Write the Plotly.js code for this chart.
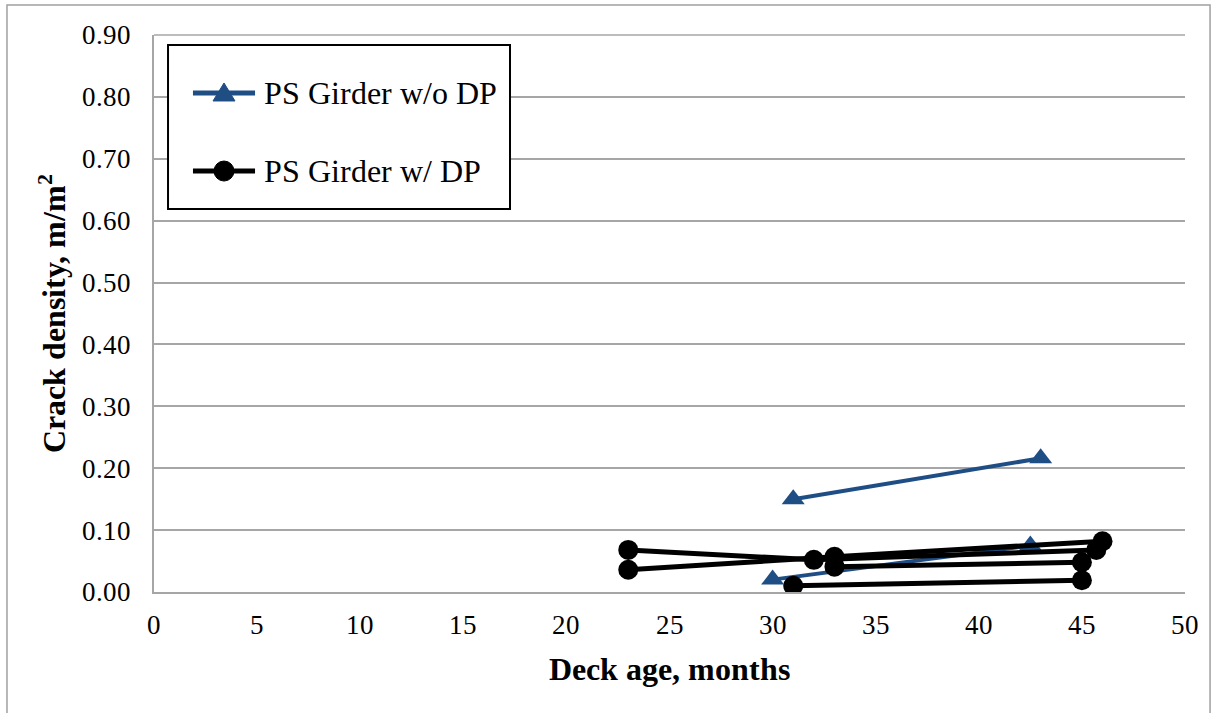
<!DOCTYPE html>
<html>
<head>
<meta charset="utf-8">
<script src="https://cdn.plot.ly/plotly-3.0.1.min.js"></script>
<style>
@font-face { font-family: "ChartSerif"; font-weight: 400; font-style: normal;
  src: local("Liberation Serif"), local("LiberationSerif"), local("Liberation Serif Regular"); }
@font-face { font-family: "ChartSerif"; font-weight: 700; font-style: normal;
  src: local("Liberation Serif Bold"), local("LiberationSerif-Bold"); }
html,body{margin:0;padding:0;background:#fff;}
#chart{width:1217px;height:713px;}
</style>
</head>
<body>
<div id="chart"></div>
<script>
// PS Girder without deck placement (w/o DP): bridge pairs separated by null
var woAge     = [31, 43, null, 30, 42.5];
var woDensity = [0.15, 0.216, null, 0.02, 0.075];

// PS Girder with deck placement (w/ DP)
var wAge     = [23, 32, 45.7, null, 23, 33, 46, null, 33, 45, null, 31, 45];
var wDensity = [0.068, 0.052, 0.068, null, 0.036, 0.057, 0.082, null, 0.041, 0.048, null, 0.010, 0.019];

var seriesNames = ["PS Girder w/o DP", "PS Girder w/ DP"];
var xTitle = "Deck age, months";
var yTitle = "Crack density, m/m<sup>2</sup>";

var fam = "ChartSerif, Liberation Serif, serif";
var blue = "#1f4e85";

function draw() {
  var traces = [
    {x: woAge, y: woDensity, name: seriesNames[0], type: "scatter", mode: "lines+markers",
     connectgaps: false, line: {color: blue, width: 4},
     marker: {symbol: "triangle-up", size: 20, color: blue}},
    {x: wAge, y: wDensity, name: seriesNames[1], type: "scatter", mode: "lines+markers",
     connectgaps: false, line: {color: "#000000", width: 5},
     marker: {symbol: "circle", size: 20, color: "#000000"}}
  ];

  // legend drawn by hand in paper coordinates (box, sample lines, marker shapes, texts)
  var legY = [0.8959, 0.7558];
  var layout = {
    width: 1217, height: 713,
    margin: {l: 154, r: 32, t: 35, b: 121},
    paper_bgcolor: "#ffffff", plot_bgcolor: "#ffffff",
    font: {family: fam, color: "#000", size: 27},
    showlegend: false,
    xaxis: {
      range: [0, 50], dtick: 5, tick0: 0, showgrid: false, zeroline: false,
      showline: true, linecolor: "#a6a6a6", linewidth: 2,
      ticks: "outside", ticklen: 8, tickcolor: "rgba(0,0,0,0)",
      tickfont: {family: fam, size: 27, color: "#000"},
      title: {text: xTitle, font: {family: fam, size: 32, color: "#000", weight: "bold"}, standoff: 18}
    },
    yaxis: {
      range: [0, 0.9], dtick: 0.1, tick0: 0, tickformat: ".2f",
      showgrid: true, gridcolor: "#a6a6a6", gridwidth: 1.5, zeroline: false,
      showline: true, linecolor: "#a6a6a6", linewidth: 2,
      ticks: "outside", ticklen: 16, tickcolor: "rgba(0,0,0,0)",
      tickfont: {family: fam, size: 27, color: "#000"},
      title: {text: yTitle, font: {family: fam, size: 32, color: "#000", weight: "bold"}, standoff: 6}
    },
    shapes: [
      {type: "line", xref: "paper", yref: "paper", x0: 0, x1: 1, y0: 1, y1: 1, line: {color: "#a6a6a6", width: 1.5}},
      {type: "rect", xref: "paper", yref: "paper", x0: -0.1426, x1: 1.0243, y0: -0.30, y1: 1.0539,
       line: {color: "#a0a0a0", width: 1.5}, fillcolor: "rgba(0,0,0,0)"},
      {type: "rect", xref: "paper", yref: "paper", x0: 0.0136, x1: 0.3453, y0: 0.6876, y1: 0.9820,
       line: {color: "#000", width: 2}, fillcolor: "#ffffff"},
      {type: "line", xref: "paper", yref: "paper", x0: 0.0378, x1: 0.0980, y0: legY[0], y1: legY[0], line: {color: blue, width: 5}},
      {type: "path", xref: "paper", yref: "paper", xsizemode: "pixel", ysizemode: "pixel", xanchor: 0.0679, yanchor: legY[0],
       path: "M0,10 L-11,-8 L11,-8 Z", fillcolor: blue, line: {color: blue, width: 1}},
      {type: "line", xref: "paper", yref: "paper", x0: 0.0378, x1: 0.0980, y0: legY[1], y1: legY[1], line: {color: "#000", width: 5}},
      {type: "circle", xref: "paper", yref: "paper", xsizemode: "pixel", ysizemode: "pixel", xanchor: 0.0679, yanchor: legY[1],
       x0: -10, x1: 10, y0: -10, y1: 10, fillcolor: "#000", line: {color: "#000", width: 1}}
    ],
    annotations: [
      {text: seriesNames[0], xref: "paper", yref: "paper", x: 0.1048, y: legY[0], xanchor: "left", yanchor: "middle",
       showarrow: false, font: {family: fam, size: 32, color: "#000"}},
      {text: seriesNames[1], xref: "paper", yref: "paper", x: 0.1048, y: legY[1], xanchor: "left", yanchor: "middle",
       showarrow: false, font: {family: fam, size: 32, color: "#000"}}
    ]
  };

  Plotly.newPlot("chart", traces, layout, {displayModeBar: false});
}

var drawn = false;
function go() { if (!drawn) { drawn = true; draw(); } }
if (document.fonts && document.fonts.load) {
  Promise.all([
    document.fonts.load('27px "ChartSerif"'),
    document.fonts.load('bold 32px "ChartSerif"')
  ]).then(go, go);
  setTimeout(go, 1500);
} else {
  go();
}
</script>
</body>
</html>
